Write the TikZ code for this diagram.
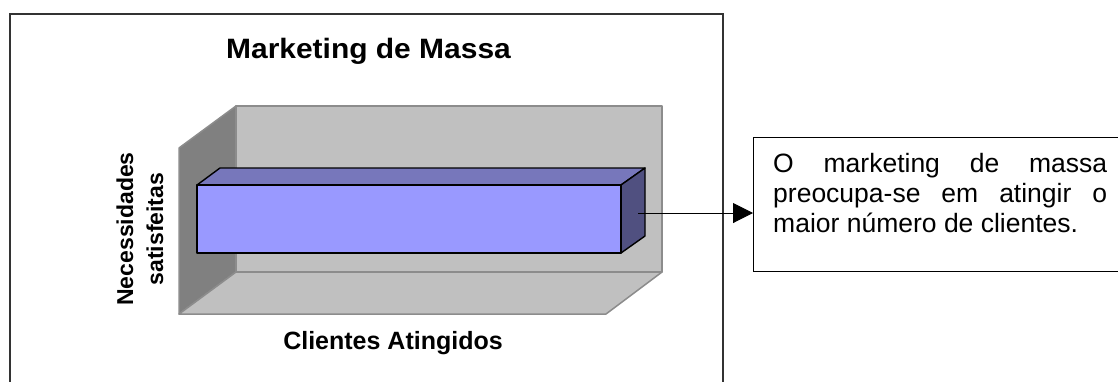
\documentclass[tikz,border=0pt]{standalone}
\usepackage{fontspec}
\setmainfont{Liberation Sans}
\usepackage{graphicx}
\usetikzlibrary{arrows.meta}
\definecolor{wallside}{HTML}{808080}
\definecolor{wallback}{HTML}{C0C0C0}
\definecolor{walledge}{HTML}{8C8C8C}
\definecolor{barfront}{HTML}{9999FF}
\definecolor{bartop}{HTML}{7777BB}
\definecolor{barside}{HTML}{505080}
\definecolor{framecol}{HTML}{333333}
\begin{document}
\begin{tikzpicture}[x=1pt,y=-1pt,
  wall/.style={draw=walledge,line width=1.5pt,line join=round},
  barface/.style={draw=black,line width=1.4pt,line join=round},
  lbl/.style={inner sep=0pt,font=\bfseries},
  boxtxt/.style={inner sep=0pt,anchor=base west,font=\fontsize{26.5}{30}\selectfont}]
\useasboundingbox (0,0) rectangle (1118,381);
\clip (0,0) rectangle (1118,381);
\fill[white] (0,0) rectangle (1118,381);
% chart frame
\draw[framecol,line width=1.3pt] (10,395) -- (10,14) -- (723,14) -- (723,395);
% title
\node[lbl,anchor=base] (title) at (368.5,58) {\fontsize{28}{32}\selectfont\scalebox{1.07}[1]{Marketing de Massa}};
% 3D walls
\filldraw[wall,fill=wallside] (179,148) -- (236,106) -- (236,272) -- (179,314) -- cycle;
\filldraw[wall,fill=wallback] (236,106) rectangle (662,272);
\filldraw[wall,fill=wallback] (179,314) -- (236,272) -- (662,272) -- (606,314) -- cycle;
% bar
\filldraw[barface,fill=bartop] (197,185) -- (220,168) -- (645,168) -- (621,185) -- cycle;
\filldraw[barface,fill=barside] (621,185) -- (645,168) -- (645,236) -- (621,253) -- cycle;
\filldraw[barface,fill=barfront] (197,185) rectangle (621,253);
\coordinate (barend) at (638,213);
% axis labels
\node[lbl,anchor=base] (xlabel) at (393,349.3) {\fontsize{25}{30}\selectfont Clientes Atingidos};
\node[lbl,anchor=base,rotate=90] (ylabel1) at (133,229) {\fontsize{23}{27}\selectfont Necessidades};
\node[lbl,anchor=base,rotate=90] (ylabel2) at (163,229) {\fontsize{23}{27}\selectfont satisfeitas};
% text box
\node[draw=black,line width=1.3pt,minimum width=380pt,minimum height=134pt,inner sep=0pt,anchor=north west] (box) at (753,137) {};
\node[boxtxt] (l1) at (773,172) {\makebox[334pt][s]{O marketing de massa}};
\node[boxtxt] (l2) at (773,202) {\makebox[334pt][s]{preocupa-se em atingir o}};
\node[boxtxt] (l3) at (773,232) {maior número de clientes.};
% arrow
\draw[line width=1pt,-{Triangle[length=20pt,width=20pt]}] (barend) -- (barend -| box.west);
\end{tikzpicture}
\end{document}
